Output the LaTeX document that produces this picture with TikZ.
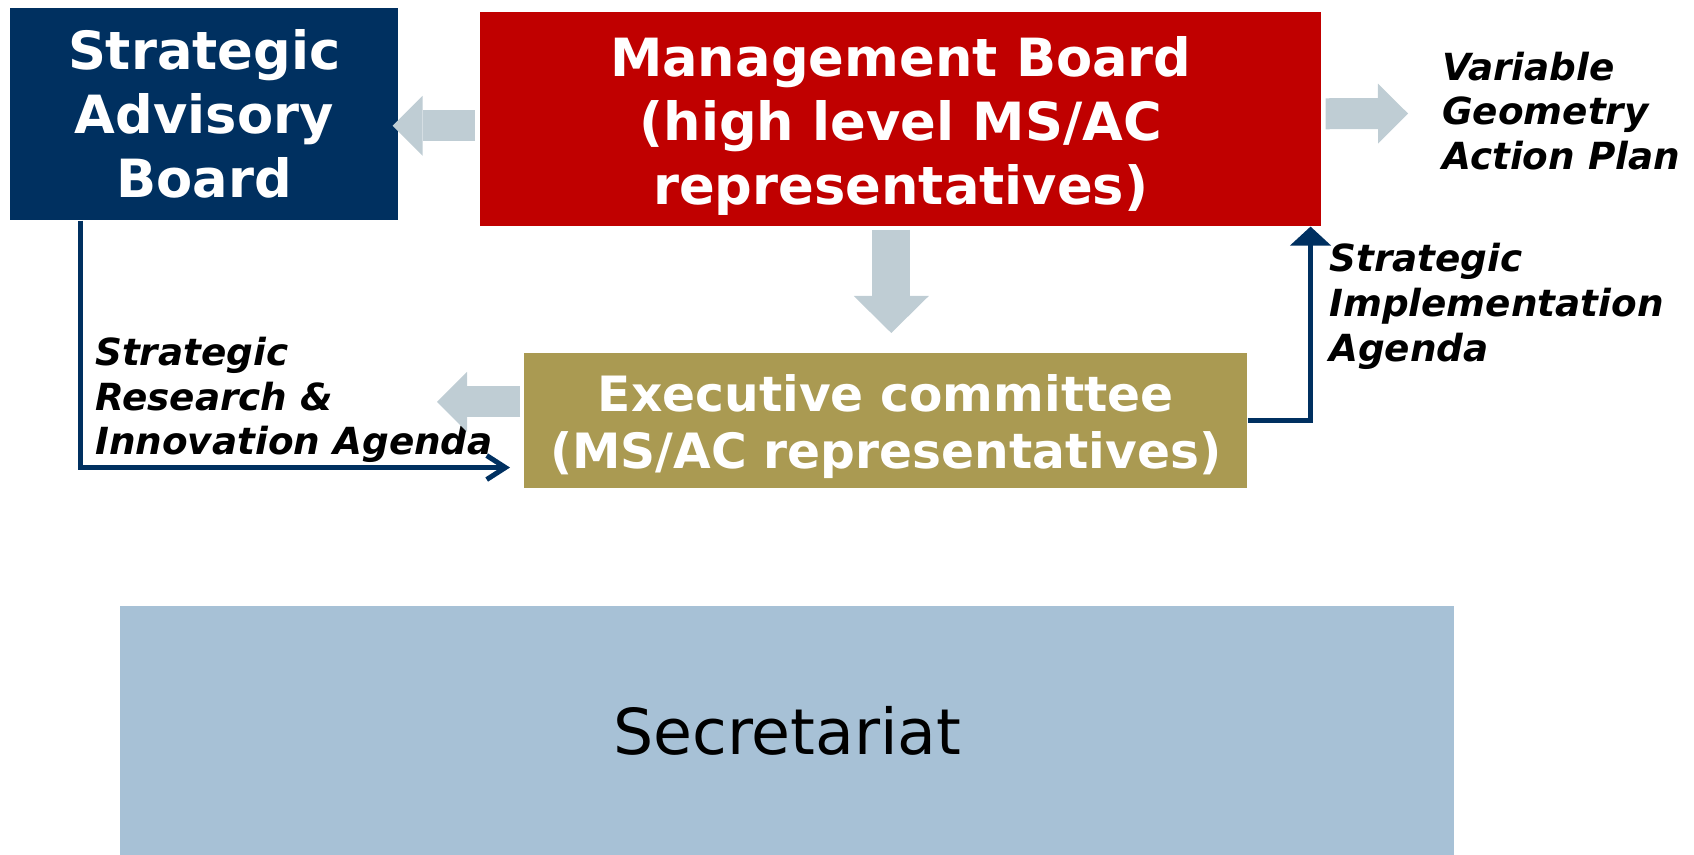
\documentclass[tikz,border=0pt]{standalone}
\usepackage{fontspec}
\setmainfont{DejaVu Sans}
\usepackage{tikz}
\usetikzlibrary{arrows.meta,calc}

\definecolor{sabblue}{RGB}{0,48,96}
\definecolor{mbred}{RGB}{192,0,0}
\definecolor{ecgold}{RGB}{170,154,82}
\definecolor{secblue}{RGB}{167,193,214}
\definecolor{arrowgrey}{RGB}{191,205,212}

\begin{document}
\begin{tikzpicture}[x=0.75pt,y=0.75pt,yscale=-1,xscale=1,
    boardbox/.style={anchor=north west, inner sep=0pt, align=center, text=white,
        font=\bfseries\fontsize{39.5pt}{48pt}\selectfont},
    boardtext/.style={inner sep=0pt, align=center, text=white,
        font=\bfseries\fontsize{39.5pt}{48pt}\selectfont},
    outlabel/.style={anchor=west, inner sep=0pt, align=left,
        font=\bfseries\itshape\fontsize{28pt}{33.5pt}\selectfont},
    fatarrow/.style={draw=arrowgrey, line width=23.25pt,
        -{Triangle[length=22.5pt,width=45pt,line width=0pt]}},
    link/.style={draw=sabblue, line width=3.75pt}]
    \useasboundingbox (0,0) rectangle (1694,855);

    %Shape: Rectangle [id:sab]
    \node[boardbox, fill=sabblue, minimum width=291pt, minimum height=159pt] (sab) at (10,8) {Strategic\\Advisory\\Board};
    %Shape: Rectangle [id:mb]
    \node[boardbox, fill=mbred, minimum width=630.75pt, minimum height=160.5pt] (mb) at (480,12) {};
    %Shape: Rectangle [id:ec]
    \node[boardbox, fill=ecgold, minimum width=542.25pt, minimum height=101.25pt] (ec) at (524,353) {};
    %Shape: Rectangle [id:sec]
    \node[boardbox, fill=secblue, text=black, minimum width=1000.5pt, minimum height=186.75pt,
        font=\fontsize{47.5pt}{57pt}\selectfont] (sec) at (120,606) {Secretariat};

    % Text Node
    \node[boardtext] (mbtext) at ($(mb.center)+(0,6.5)$) {Management Board\\(high level MS/AC\\representatives)};
    % Text Node
    \node[boardtext, font=\bfseries\fontsize{36.5pt}{43pt}\selectfont] (ectext) at ($(ec.center)+(0,5.5)$) {Executive committee\\(MS/AC representatives)};
    % Text Node
    \node[outlabel] (vgap) at (1442,111) {Variable\\Geometry\\Action Plan};
    % Text Node
    \node[outlabel] (sia) at (1329,306.5) {Strategic\\Implementation\\Agenda};
    % Text Node
    \node[outlabel] (sria) at (95,400) {Strategic\\Research \&\\Innovation Agenda};

    %Shape: Block Arrows
    \draw[fatarrow] ($(mb.west)+(-5,6.5)$) -- ($(sab.east)+(-6,11.5)$);
    \draw[fatarrow] ($(mb.east)+(4,-5.5)$) -- ($(vgap.west)+(-34,2.5)$);
    \draw[fatarrow, line width=28.5pt, -{Triangle[length=27.75pt,width=56.25pt,line width=0pt]}] ($(mb.south)+(-9.5,3)$) -- ($(ec.north)+(5.5,-20)$);
    \draw[fatarrow] ($(ec.west)+(-4,-19)$) -- ($(ec.west)+(-87,-19)$);

    %Connectors
    \draw[link, -{Straight Barb[length=14pt,width=18pt]}] ($(sab.south west)+(70,0)$) |- ($(ec.south west)+(-14,-21)$);
    \draw[link, -{Triangle[length=14.25pt,width=30pt]}] (ec.east) -| ($(mb.south east)+(-11,0)$);

\end{tikzpicture}
\end{document}
